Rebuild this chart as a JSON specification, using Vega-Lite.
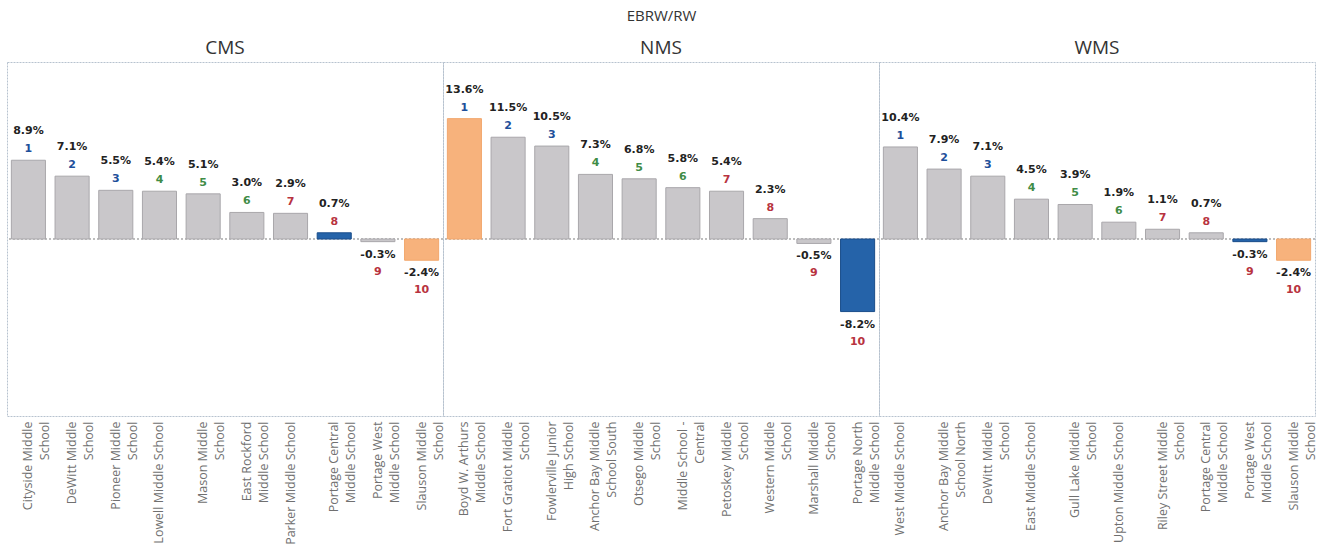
{
  "$schema": "https://vega.github.io/schema/vega-lite/v6.json",
  "padding": {"left": 6, "top": 9, "right": 2, "bottom": 0},
  "bounds": "flush",
  "title": {"text": "EBRW/RW", "fontSize": 15, "font": "Open Sans", "fontWeight": "normal", "color": "#333333", "anchor": "middle", "offset": 15},
  "data": {"values": [
    {"district": "CMS", "rank": 1, "school": "Cityside Middle\nSchool", "value": 0.089, "role": "Peer"},
    {"district": "CMS", "rank": 2, "school": "DeWitt Middle\nSchool", "value": 0.071, "role": "Peer"},
    {"district": "CMS", "rank": 3, "school": "Pioneer Middle\nSchool", "value": 0.055, "role": "Peer"},
    {"district": "CMS", "rank": 4, "school": "Lowell Middle School", "value": 0.054, "role": "Peer"},
    {"district": "CMS", "rank": 5, "school": "Mason Middle\nSchool", "value": 0.051, "role": "Peer"},
    {"district": "CMS", "rank": 6, "school": "East Rockford\nMiddle School", "value": 0.030, "role": "Peer"},
    {"district": "CMS", "rank": 7, "school": "Parker Middle School", "value": 0.029, "role": "Peer"},
    {"district": "CMS", "rank": 8, "school": "Portage Central\nMiddle School", "value": 0.007, "role": "Target"},
    {"district": "CMS", "rank": 9, "school": "Portage West\nMiddle School", "value": -0.003, "role": "Peer"},
    {"district": "CMS", "rank": 10, "school": "Slauson Middle\nSchool", "value": -0.024, "role": "Reference"},
    {"district": "NMS", "rank": 1, "school": "Boyd W. Arthurs\nMiddle School", "value": 0.136, "role": "Reference"},
    {"district": "NMS", "rank": 2, "school": "Fort Gratiot Middle\nSchool", "value": 0.115, "role": "Peer"},
    {"district": "NMS", "rank": 3, "school": "Fowlerville Junior\nHigh School", "value": 0.105, "role": "Peer"},
    {"district": "NMS", "rank": 4, "school": "Anchor Bay Middle\nSchool South", "value": 0.073, "role": "Peer"},
    {"district": "NMS", "rank": 5, "school": "Otsego Middle\nSchool", "value": 0.068, "role": "Peer"},
    {"district": "NMS", "rank": 6, "school": "Middle School -\nCentral", "value": 0.058, "role": "Peer"},
    {"district": "NMS", "rank": 7, "school": "Petoskey Middle\nSchool", "value": 0.054, "role": "Peer"},
    {"district": "NMS", "rank": 8, "school": "Western Middle\nSchool", "value": 0.023, "role": "Peer"},
    {"district": "NMS", "rank": 9, "school": "Marshall Middle\nSchool", "value": -0.005, "role": "Peer"},
    {"district": "NMS", "rank": 10, "school": "Portage North\nMiddle School", "value": -0.082, "role": "Target"},
    {"district": "WMS", "rank": 1, "school": "West Middle School", "value": 0.104, "role": "Peer"},
    {"district": "WMS", "rank": 2, "school": "Anchor Bay Middle\nSchool North", "value": 0.079, "role": "Peer"},
    {"district": "WMS", "rank": 3, "school": "DeWitt Middle\nSchool", "value": 0.071, "role": "Peer"},
    {"district": "WMS", "rank": 4, "school": "East Middle School", "value": 0.045, "role": "Peer"},
    {"district": "WMS", "rank": 5, "school": "Gull Lake Middle\nSchool", "value": 0.039, "role": "Peer"},
    {"district": "WMS", "rank": 6, "school": "Upton Middle School", "value": 0.019, "role": "Peer"},
    {"district": "WMS", "rank": 7, "school": "Riley Street Middle\nSchool", "value": 0.011, "role": "Peer"},
    {"district": "WMS", "rank": 8, "school": "Portage Central\nMiddle School", "value": 0.007, "role": "Peer"},
    {"district": "WMS", "rank": 9, "school": "Portage West\nMiddle School", "value": -0.003, "role": "Target"},
    {"district": "WMS", "rank": 10, "school": "Slauson Middle\nSchool", "value": -0.024, "role": "Reference"}
  ]},
  "facet": {
    "column": {
      "field": "district", "type": "nominal", "sort": ["CMS", "NMS", "WMS"], "title": null,
      "header": {"labelFontSize": 19, "labelFont": "Open Sans", "labelColor": "#333333", "labelPadding": 4}
    }
  },
  "spacing": 0,
  "resolve": {"scale": {"x": "independent"}},
  "spec": {
    "width": 436,
    "height": 354,
    "layer": [
      {
        "mark": {"type": "rule", "color": "#bdbdbd", "strokeDash": [2, 2], "strokeWidth": 1},
        "encoding": {"y": {"datum": 0, "type": "quantitative", "scale": {"domain": [-0.2, 0.2]}, "axis": null}}
      },
      {
        "mark": {"type": "bar", "strokeWidth": 1},
        "encoding": {
          "x": {"field": "school", "type": "nominal", "sort": {"field": "rank", "op": "min"},
            "scale": {"paddingInner": 0.22, "paddingOuter": 0.1},
            "axis": {"title": null, "labelAngle": -90, "labelAlign": "right", "labelBaseline": "middle", "labelFont": "Open Sans", "labelFontSize": 12.5, "labelLineHeight": 17, "labelColor": "#707070", "ticks": false, "domain": false, "labelPadding": 5, "labelLimit": 128, "labelExpr": "split(datum.label, '\\n')"}},
          "y": {"field": "value", "type": "quantitative", "scale": {"domain": [-0.2, 0.2]}, "axis": null},
          "fill": {"field": "role", "type": "nominal", "scale": {"domain": ["Peer", "Target", "Reference"], "range": ["#c9c7ca", "#2563a9", "#f7b27c"]}, "legend": null},
          "stroke": {"field": "role", "type": "nominal", "scale": {"domain": ["Peer", "Target", "Reference"], "range": ["#a9a7ab", "#1a4d8a", "#f2a76d"]}, "legend": null}
        }
      },
      {
        "transform": [{"filter": "datum.value >= 0"}],
        "mark": {"type": "text", "font": "DejaVu Sans", "fontWeight": "bold", "fontSize": 11, "baseline": "middle", "dy": -29, "color": "#222222"},
        "encoding": {
          "x": {"field": "school", "type": "nominal", "sort": {"field": "rank", "op": "min"}},
          "y": {"field": "value", "type": "quantitative"},
          "text": {"field": "value", "type": "quantitative", "format": ".1%"}
        }
      },
      {
        "transform": [{"filter": "datum.value >= 0"}],
        "mark": {"type": "text", "font": "DejaVu Sans", "fontWeight": "bold", "fontSize": 11, "baseline": "middle", "dy": -11},
        "encoding": {
          "x": {"field": "school", "type": "nominal", "sort": {"field": "rank", "op": "min"}},
          "y": {"field": "value", "type": "quantitative"},
          "text": {"field": "rank", "type": "quantitative"},
          "color": {"field": "rank", "type": "quantitative", "scale": {"type": "threshold", "domain": [4, 7], "range": ["#1e4f9a", "#3f8c46", "#b8333f"]}, "legend": null}
        }
      },
      {
        "transform": [{"filter": "datum.value < 0"}],
        "mark": {"type": "text", "font": "DejaVu Sans", "fontWeight": "bold", "fontSize": 11, "baseline": "middle", "dy": 13, "color": "#222222"},
        "encoding": {
          "x": {"field": "school", "type": "nominal", "sort": {"field": "rank", "op": "min"}},
          "y": {"field": "value", "type": "quantitative"},
          "text": {"field": "value", "type": "quantitative", "format": ".1%"}
        }
      },
      {
        "transform": [{"filter": "datum.value < 0"}],
        "mark": {"type": "text", "font": "DejaVu Sans", "fontWeight": "bold", "fontSize": 11, "baseline": "middle", "dy": 30},
        "encoding": {
          "x": {"field": "school", "type": "nominal", "sort": {"field": "rank", "op": "min"}},
          "y": {"field": "value", "type": "quantitative"},
          "text": {"field": "rank", "type": "quantitative"},
          "color": {"field": "rank", "type": "quantitative", "scale": {"type": "threshold", "domain": [4, 7], "range": ["#1e4f9a", "#3f8c46", "#b8333f"]}, "legend": null}
        }
      }
    ]
  },
  "config": {
    "locale": {"number": {"decimal": ".", "thousands": ",", "grouping": [3], "currency": ["$", ""], "minus": "-"}},
    "view": {"stroke": "#b7c2cf", "strokeDash": [2, 1], "strokeWidth": 1}
  }
}
